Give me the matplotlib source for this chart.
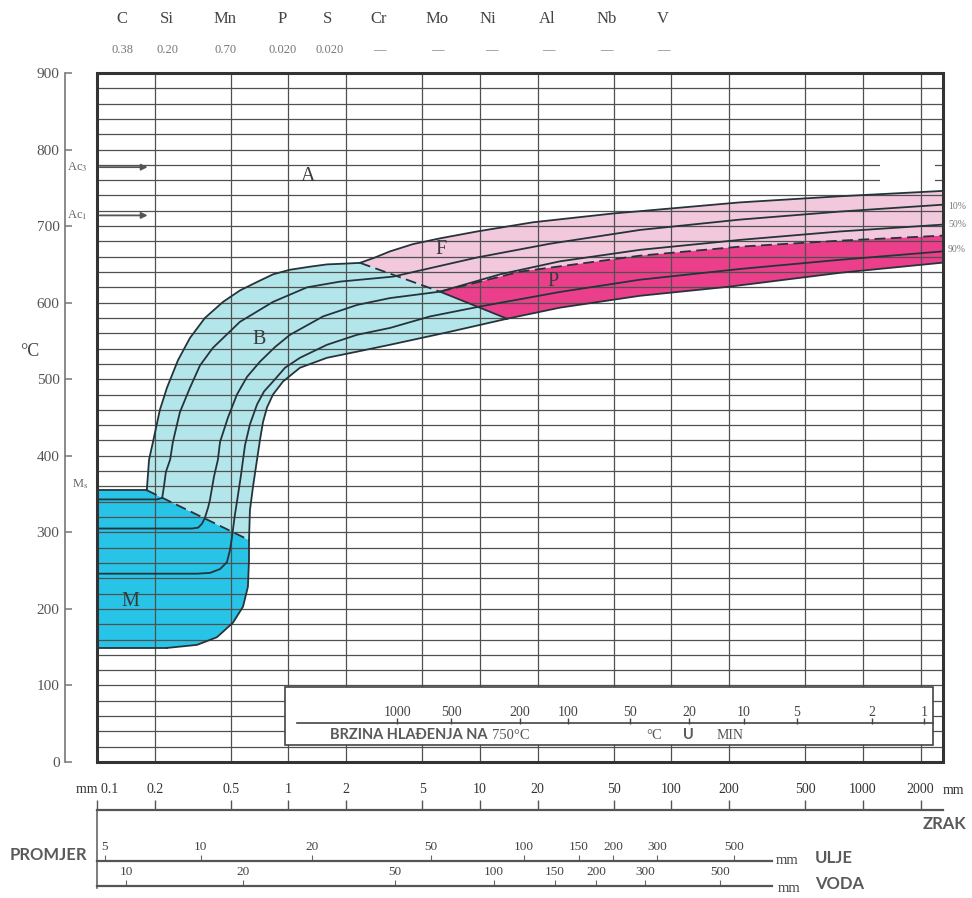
import numpy as np
import matplotlib
matplotlib.use('Agg')
import matplotlib.pyplot as plt
from matplotlib.patches import Polygon, Rectangle
from matplotlib.ticker import NullLocator

plt.rcParams['font.family'] = ['Liberation Serif', 'DejaVu Serif']
plt.rcParams['mathtext.fontset'] = 'stix'

# ---------------- data ----------------
elements = ['C', 'Si', 'Mn', 'P', 'S', 'Cr', 'Mo', 'Ni', 'Al', 'Nb', 'V']
contents = ['0.38', '0.20', '0.70', '0.020', '0.020', '—', '—', '—', '—', '—', '—']

temp_ticks = list(range(0, 901, 100))
grid_temps = list(range(20, 900, 20))

zrak_ticks = [0.1, 0.2, 0.5, 1, 2, 5, 10, 20, 50, 100, 200, 500, 1000, 2000]
zrak_labels = ['mm 0.1', '0.2', '0.5', '1', '2', '5', '10', '20', '50', '100', '200', '500', '1000', '2000']

ulje_labels = ['5', '10', '20', '50', '100', '150', '200', '300', '500']
ulje_pos = [0.110, 0.349, 1.327, 5.55, 16.97, 32.9, 49.5, 84.0, 212]
voda_labels = ['10', '20', '50', '100', '150', '200', '300', '500']
voda_pos = [0.142, 0.579, 3.60, 11.83, 24.6, 40.3, 72.8, 179]
scale_end = 335

rate_labels = ['1000', '500', '200', '100', '50', '20', '10', '5', '2', '1']
rate_pos = [3.69, 7.06, 16.2, 28.8, 60.7, 123.4, 239, 452, 1114, 2082]

Ac3 = 777
Ac1 = 714
Ms = 355
M_bottom = 149
x_min, x_max = 0.1, 2618

# transformation lines (x: mm, y: °C)
bs_x = [0.182, 0.187, 0.196, 0.213, 0.232, 0.265, 0.306, 0.366, 0.455, 0.558, 0.685, 0.830, 1.018, 1.295, 1.589, 1.973, 2.363]
bs_T = [355, 395, 418, 460, 489, 525, 554, 580, 601, 616, 627, 637, 643, 647, 650, 651, 652]

fs_x = [2.363, 2.829, 3.389, 4.468, 6.182, 9.645, 18.92, 49.5, 68.5, 227.9, 758.5, 2618]
fs_T = [652, 659, 667, 676.5, 684, 693, 705, 716.5, 719.5, 731, 739, 746]

be_x = [0.622, 0.629, 0.653, 0.685, 0.710, 0.736, 0.772, 0.830, 0.936, 1.148, 1.589, 2.279, 3.389, 6.970, 13.84]
be_T = [290, 329, 360, 395, 421, 444, 463, 480, 497, 515, 528, 536, 545, 562, 579]

pe_x = [13.84, 26.17, 68.5, 202.1, 758.5, 2618]
pe_T = [579, 593.5, 609, 621, 639, 652.3]

ms_x = [0.182, 0.622]
ms_T = [355, 290]

mr_x = [0.622, 0.622, 0.614, 0.579, 0.513, 0.423, 0.333, 0.232]
mr_T = [290, 264, 229, 203, 182, 163, 153, 149]

bf_x = [2.363, 6.182]
bf_T = [652, 614.4]
bp_x = [6.182, 13.84]
bp_T = [614.4, 579.1]

fp_x = [6.182, 16.18, 68.5, 227.9, 758.5, 2618]
fp_T = [614.4, 640.5, 661.4, 673.2, 681, 687.6]

l10_x = [0.1, 0.206, 0.219, 0.224, 0.229, 0.241, 0.249, 0.271, 0.306, 0.345, 0.403, 0.558, 0.830, 1.249, 1.857, 3.514,
         6.182, 9.645, 23.21, 68.5, 227.9, 758.5, 2618]
l10_T = [343, 343, 345, 361, 379, 395, 418, 457, 489, 518, 541, 575, 601, 620, 627.5, 634,
         648, 659, 677, 695, 708.5, 719, 728]

l50_x = [0.1, 0.313, 0.337, 0.353, 0.366, 0.380, 0.389, 0.408, 0.428, 0.439, 0.483, 0.538, 0.607, 0.710, 0.850, 1.018,
         1.514, 2.279, 3.389, 6.182, 12.72, 26.17, 68.5, 227.9, 758.5, 2618]
l50_T = [305, 305, 306, 311, 319, 332, 342.5, 372.5, 395, 418, 450, 480, 503, 523, 542, 558,
         582, 597, 606, 614.4, 637, 654, 669, 682, 693, 702]

l90_x = [0.1, 0.333, 0.389, 0.439, 0.477, 0.495, 0.507, 0.525, 0.545, 0.565, 0.579, 0.593, 0.629, 0.685, 0.745, 0.830,
         0.959, 1.148, 1.589, 2.279, 3.389, 5.48, 10.0, 26.17, 68.5, 227.9, 758.5, 2618]
l90_T = [246, 246, 247, 252, 261, 277, 294, 323, 349, 375, 395, 414, 441, 467, 484, 497,
         515, 528, 545, 558, 567, 582, 595, 614, 630, 644, 656, 667]

# ---------------- figure ----------------
fig = plt.figure(figsize=(9.72, 8.98), dpi=100)
fig.patch.set_facecolor('white')
L, R = 97 / 972, 943 / 972
B, T = 1 - 762 / 898, 1 - 73 / 898
ax = fig.add_axes([L, B, R - L, T - B])
ax.set_xscale('log')
ax.set_xlim(x_min, x_max)
ax.set_ylim(0, 900)
ax.xaxis.set_major_locator(NullLocator())
ax.xaxis.set_minor_locator(NullLocator())

line_c = '#26343a'
grid_c = '#505050'

# regions
def poly(xs, ys, color):
    ax.add_patch(Polygon(np.column_stack([xs, ys]), closed=True, fc=color, ec='none', zorder=1))

poly([x_min, x_min] + ms_x + mr_x[1:] + [x_min],
     [M_bottom, Ms] + ms_T + mr_T[1:] + [M_bottom], '#27c4e8')
poly(bs_x + bf_x[1:] + bp_x[1:] + be_x[::-1][1:] + ms_x[::-1][1:],
     bs_T + bf_T[1:] + bp_T[1:] + be_T[::-1][1:] + ms_T[::-1][1:], '#b3e6ea')
poly(fs_x + fp_x[::-1] + bf_x[::-1][1:],
     fs_T + fp_T[::-1] + bf_T[::-1][1:], '#f2c8dd')
poly(fp_x + pe_x[::-1] + bp_x[::-1][1:],
     fp_T + pe_T[::-1] + bp_T[::-1][1:], '#eb3f8c')

# grid
ax.hlines(grid_temps, x_min, x_max, colors=grid_c, lw=0.9, zorder=2)
ax.add_patch(Rectangle((1227, 750), 2377 - 1227, 40, fc='white', ec='none', zorder=2.5))
ax.vlines(zrak_ticks[1:], 0, 900, colors=grid_c, lw=0.9, zorder=2.6)

# lines
kw = dict(color=line_c, lw=1.3, zorder=3)
for xs, ys in [(bs_x, bs_T), (fs_x, fs_T), (be_x, be_T), (pe_x, pe_T), (mr_x, mr_T), (bp_x, bp_T),
               (l10_x, l10_T), (l50_x, l50_T), (l90_x, l90_T)]:
    ax.plot(xs, ys, **kw)
ax.plot([x_min, ms_x[0]], [Ms, Ms], **kw)
ax.plot([x_min, mr_x[-1]], [M_bottom, M_bottom], **kw)
for xs, ys in [(ms_x, ms_T), (bf_x, bf_T), (fp_x, fp_T)]:
    ax.plot(xs, ys, color=line_c, lw=1.3, ls=(0, (6, 3)), zorder=3)

# Ac arrows
for t in (Ac3, Ac1):
    ax.annotate('', xy=(0.19, t), xytext=(0.1, t),
                arrowprops=dict(arrowstyle='-|>', color='#555555', lw=1.3, mutation_scale=9), zorder=4)
yt = ax.get_yaxis_transform()
ax.text(-0.035, Ac3, r'Ac$_3$', transform=yt, fontsize=9, color='#666666', ha='left', va='center', clip_on=False)
ax.text(-0.035, Ac1, r'Ac$_1$', transform=yt, fontsize=9, color='#666666', ha='left', va='center', clip_on=False)
ax.text(-0.030, Ms + 8, r'M$_\mathrm{s}$', transform=yt, fontsize=9, color='#666666', ha='left', va='center', clip_on=False)

# region labels
lab = dict(fontsize=14.5, color='#3a3a3a', ha='center', va='center', zorder=5)
ax.text(1.265, 765, 'A', **lab)
ax.text(0.70, 552, 'B', **lab)
ax.text(6.25, 669, 'F', **lab)
ax.text(24.05, 628, 'P', **lab)
ax.text(0.149, 209, 'M', **lab)

# percentage labels at right
for t, s in [(725.5, '10%'), (702, '50%'), (669, '90%')]:
    ax.text(1.006, t, s, transform=yt, fontsize=7, color='#777777', ha='left', va='center', clip_on=False)

# cooling-rate inset
ax.add_patch(Rectangle((0.959, 22), 2320 - 0.959, 76, fc='white', ec='#444444', lw=1.2, zorder=4))
ax.plot([1.108, 2320], [51, 51], color='#444444', lw=1.2, zorder=5)
ax.vlines(rate_pos, 50, 57, colors='#444444', lw=1, zorder=5)
for p, s in zip(rate_pos, rate_labels):
    ax.text(p, 65, s, fontsize=10, color='#444444', ha='center', va='center', zorder=6)
sans = dict(family=['Lato', 'DejaVu Sans'], weight='bold', color='#5a5a5a', va='center', zorder=6)
ax.text(1.648, 35, 'BRZINA HLAĐENJA NA', fontsize=10.5, ha='left', **sans)
ax.text(11.6, 35, '750°C', fontsize=10.5, color='#555555', ha='left', va='center', zorder=6)
ax.text(81.0, 35, '°C', fontsize=10.5, color='#555555', ha='center', va='center', zorder=6)
ax.text(122, 35, 'U', fontsize=10.5, ha='center', **sans)
ax.text(202, 35, 'MIN', fontsize=10, color='#555555', ha='center', va='center', zorder=6)

# frame and y axis
for s in ('top', 'right', 'bottom'):
    ax.spines[s].set_visible(False)
ax.add_patch(Rectangle((0, 0), 1, 1, transform=ax.transAxes, fill=False, lw=2.2, ec='#333333', clip_on=False, zorder=7))
ax.spines['left'].set_position(('outward', 23))
ax.spines['left'].set_color('#777777')
ax.spines['left'].set_linewidth(1.2)
ax.set_yticks(temp_ticks)
ax.tick_params(axis='y', direction='in', length=5, width=1.1, colors='#777777', labelsize=11,
               labelcolor='#555555', pad=4)
fig.text(30 / 972, 1 - 352 / 898, '°C', fontsize=13, color='#444444', ha='center', va='center')

# composition header
elem_x = [122, 167, 225, 282, 327, 379, 437, 488, 547, 607, 663]
cont_x = [122, 167, 226, 283, 330, 379, 437, 491, 548, 606, 663]
for px, s in zip(elem_x, elements):
    fig.text(px / 972, 1 - 19 / 898, s, fontsize=12, color='#444444', ha='center', va='center')
for px, s in zip(cont_x, contents):
    fig.text(px / 972, 1 - 50 / 898, s, fontsize=9, color='#777777', ha='center', va='center')

# bottom diameter scales
axZ = fig.add_axes([L, 1 - 888 / 898, R - L, (888 - 810) / 898])
axU = fig.add_axes([L, 1 - 861 / 898 - 0.004, R - L, 0.004])
axV = fig.add_axes([L, 1 - 886 / 898 - 0.004, R - L, 0.004])
for a in (axZ, axU, axV):
    a.set_xscale('log')
    a.set_xlim(x_min, x_max)
    a.set_ylim(0, 1)
    a.patch.set_visible(False)
    a.xaxis.set_minor_locator(NullLocator())
    a.set_yticks([])
    a.xaxis.set_ticks_position('top')
    for s in ('right', 'bottom', 'left'):
        a.spines[s].set_visible(False)
    a.spines['top'].set_color('#555555')
    a.spines['top'].set_linewidth(1.6)
axZ.spines['left'].set_visible(True)
axZ.spines['left'].set_color('#666666')
axZ.spines['left'].set_linewidth(1.2)
axZ.set_xticks(zrak_ticks)
axZ.set_xticklabels(zrak_labels)
axZ.tick_params(axis='x', direction='out', length=7, width=1, colors='#555555', labelsize=10,
                labelcolor='#333333', pad=3)
axU.set_xticks(ulje_pos)
axU.set_xticklabels(ulje_labels)
axU.spines['top'].set_bounds(x_min, scale_end)
axU.tick_params(axis='x', direction='out', length=4, width=0.8, colors='#666666', labelsize=9.5,
                labelcolor='#444444', pad=1.5)
axV.set_xticks(voda_pos)
axV.set_xticklabels(voda_labels)
axV.spines['top'].set_bounds(x_min, scale_end)
axV.tick_params(axis='x', direction='out', length=4, width=0.8, colors='#666666', labelsize=9.5,
                labelcolor='#444444', pad=1.5)

fig.text(953 / 972, 1 - 790 / 898, 'mm', fontsize=10, color='#333333', ha='center', va='center')
bold = dict(family=['Lato', 'DejaVu Sans'], weight='bold', color='#5a5a5a', va='center')
fig.text(966 / 972, 1 - 824 / 898, 'ZRAK', fontsize=12, ha='right', **bold)
fig.text(10 / 972, 1 - 855 / 898, 'PROMJER', fontsize=12, ha='left', **bold)
fig.text(776 / 972, 1 - 861 / 898, 'mm', fontsize=10.5, color='#444444', ha='left', va='center')
fig.text(815 / 972, 1 - 858 / 898, 'ULJE', fontsize=12, ha='left', **bold)
fig.text(778 / 972, 1 - 888 / 898, 'mm', fontsize=10.5, color='#444444', ha='left', va='center')
fig.text(815 / 972, 1 - 884 / 898, 'VODA', fontsize=12, ha='left', **bold)

fig.savefig('out.png', dpi=100, facecolor='white')
